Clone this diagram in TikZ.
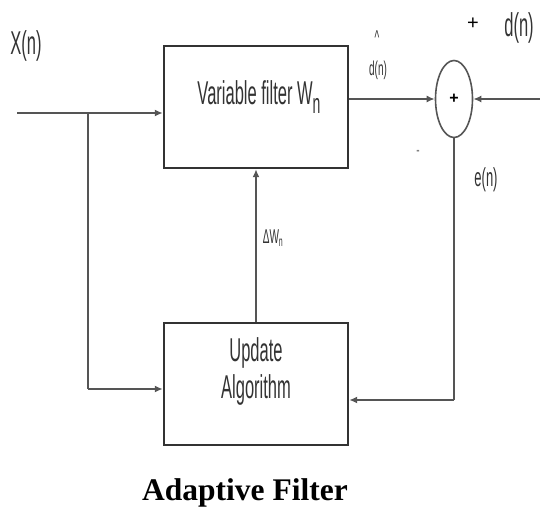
\documentclass[tikz,border=0pt]{standalone}
\usepackage{fontspec}
\setmainfont{Liberation Serif}
\setsansfont{Liberation Sans}
\usepackage{graphicx}
\usetikzlibrary{shapes.geometric, arrows.meta, positioning}
\usepackage{xcolor}
\definecolor{lnclr}{HTML}{555555}
\definecolor{bxclr}{HTML}{333333}
\newcommand{\sqz}[1]{\scalebox{0.5}[1]{#1}}

\begin{document}
\begin{tikzpicture}[
    x=1pt, y=-1pt,
    blk/.style={rectangle, draw=bxclr, line width=2.4pt, minimum width=184pt, minimum height=122pt, inner sep=0pt},
    sumnode/.style={ellipse, draw=lnclr, line width=1.6pt, minimum width=37pt, minimum height=77pt, inner sep=0pt},
    lbl/.style={font=\sffamily\fontsize{33}{34}\selectfont, text=black!80, inner sep=0pt},
    smlbl/.style={font=\sffamily\fontsize{20}{21}\selectfont, text=black!80, inner sep=0pt},
    arr/.style={-{Latex[length=8pt, width=7pt]}, draw=lnclr, line width=2pt},
    ln/.style={draw=lnclr, line width=2pt}
]
    \useasboundingbox (0,0) rectangle (540,513);

    % Nodes
    \node[blk] (filt) at (256,107) {};
    \node[blk] (upd) at (256,384) {};
    \node[sumnode] (sum) at (454,99) {};
    \node[font=\sffamily\bfseries\fontsize{16}{16}\selectfont] (plus) at (sum) {+};

    \coordinate (xin) at (17,113);
    \coordinate (jn) at (88,113);
    \coordinate (ja) at (88,389);
    \coordinate (din) at (540,99);
    \coordinate (fb) at (454,400);

    % Texts
    \node[lbl] (xlab) at (26,46) {\sqz{X(n)}};
    \node[lbl] (ftxt) at (259,97) {\sqz{Variable filter W\raisebox{-9pt}{\fontsize{28}{28}\selectfont n}}};
    \node[lbl] (utxt) at (256,353) {\sqz{Update}};
    \node[lbl] (atxt) at (256,390) {\sqz{Algorithm}};
    \node[lbl] (dlab) at (519,28) {\sqz{d(n)}};
    \node[font=\sffamily\fontsize{20}{20}\selectfont] (dplus) at (473,24) {+};
    \node[smlbl] (dhat) at (377,38) {\sqz{\textasciicircum}};
    \node[smlbl] (dest) at (378,70) {\sqz{d(n)}};
    \node[smlbl, text=black!50] (dmin) at (418,153) {\sqz{-}};
    \node[lbl, font=\sffamily\fontsize{26}{26}\selectfont] (elab) at (486,180) {\sqz{e(n)}};
    \node[smlbl] (dw) at (273,238) {\sqz{ΔW\textsubscript{n}}};

    \node[font=\bfseries\fontsize{31.5}{33}\selectfont] (title) at (245,493) {Adaptive Filter};

    % Arrows
    \draw[arr] (xin) -- (xin -| filt.west);
    \draw[ln] (jn) -- (ja);
    \draw[arr] (ja) -- (ja -| upd.west);
    \draw[arr] (filt.east |- sum.west) -- (sum.west);
    \draw[arr] (din) -- (sum.east);
    \draw[ln] (sum.south) -- (fb);
    \draw[arr] (fb) -- (fb -| upd.east);
    \draw[arr] (upd.north) -- (filt.south);

\end{tikzpicture}
\end{document}
